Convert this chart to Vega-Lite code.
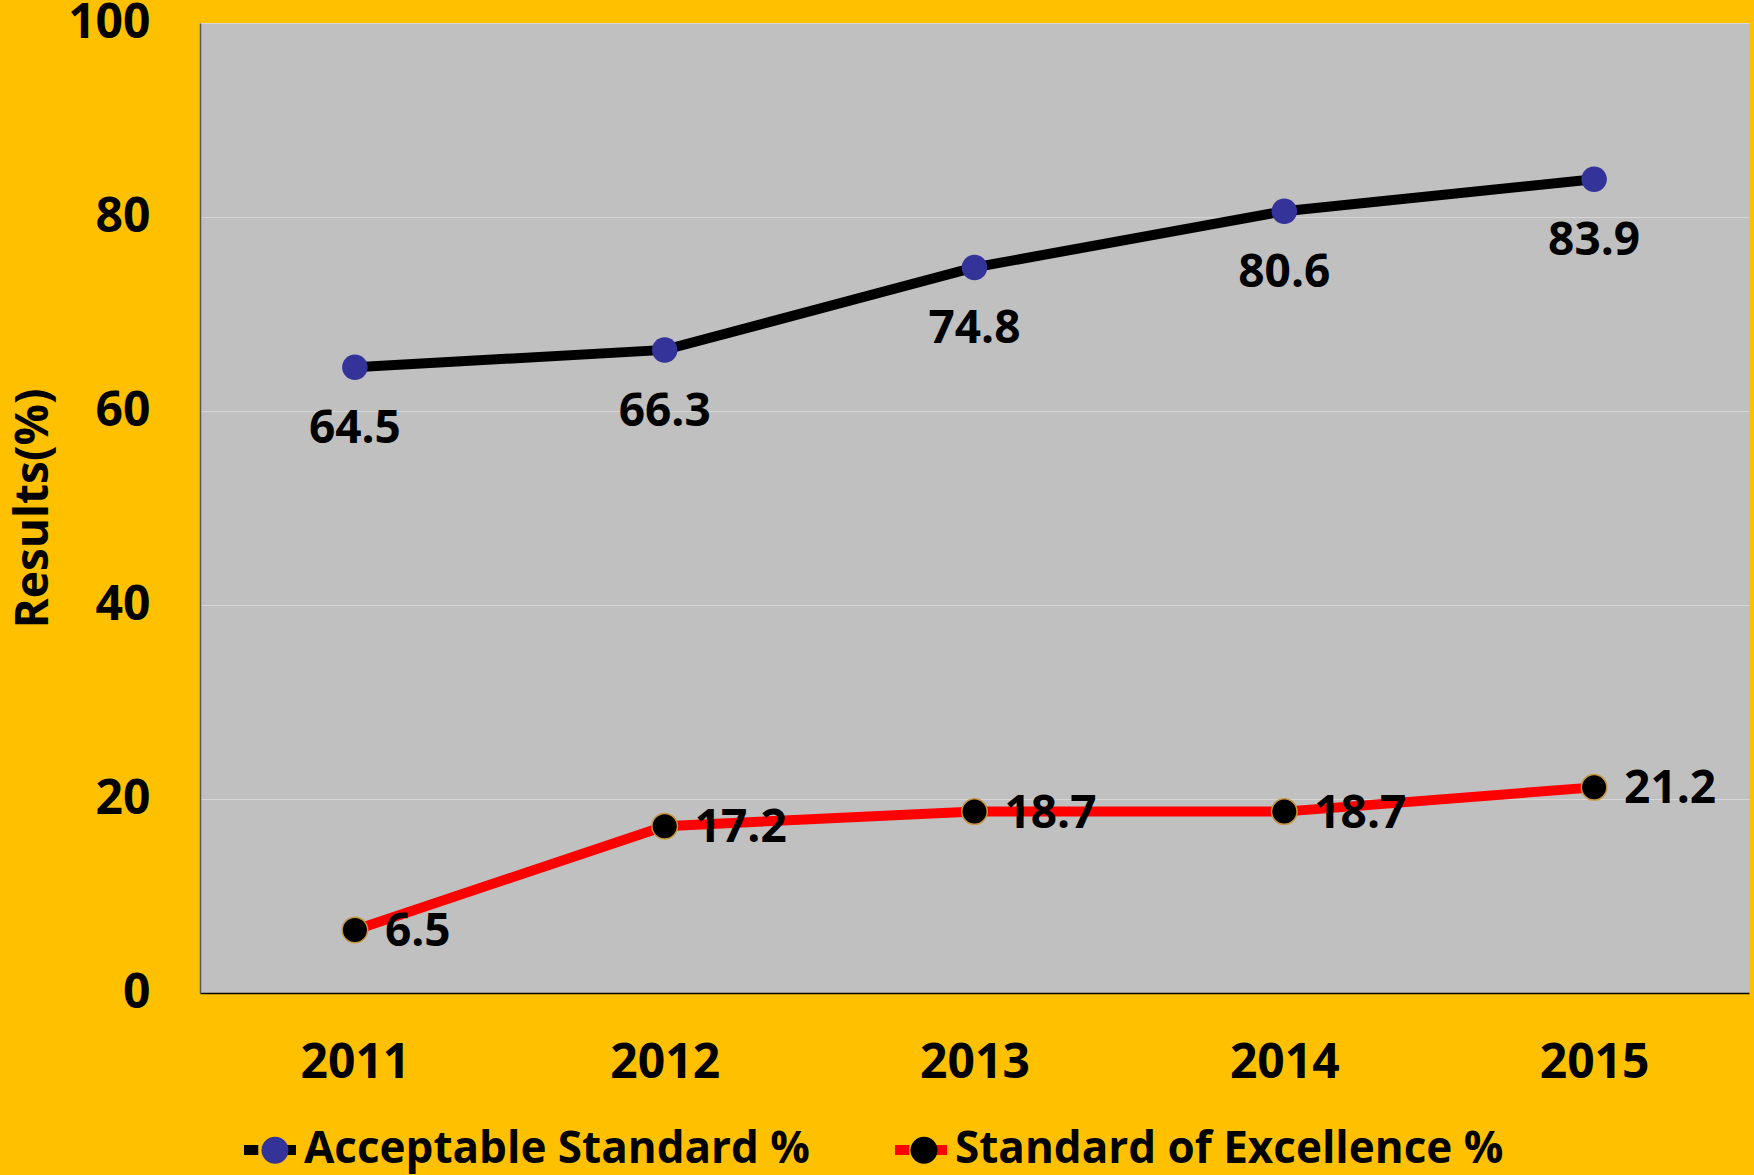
{
  "$schema": "https://vega.github.io/schema/vega-lite/v6.json",
  "autosize": "none",
  "width": 1549,
  "height": 970,
  "padding": {"left": 200, "top": 23, "right": 5, "bottom": 182},
  "background": "#FFC000",
  "config": {
    "font": "Open Sans",
    "view": {"fill": "#C0C0C0", "stroke": null},
    "legend": {"padding": 0}
  },
  "data": {
    "values": [
      {"year": "2011", "series": "Acceptable Standard %", "value": 64.5},
      {"year": "2012", "series": "Acceptable Standard %", "value": 66.3},
      {"year": "2013", "series": "Acceptable Standard %", "value": 74.8},
      {"year": "2014", "series": "Acceptable Standard %", "value": 80.6},
      {"year": "2015", "series": "Acceptable Standard %", "value": 83.9},
      {"year": "2011", "series": "Standard of Excellence %", "value": 6.5},
      {"year": "2012", "series": "Standard of Excellence %", "value": 17.2},
      {"year": "2013", "series": "Standard of Excellence %", "value": 18.7},
      {"year": "2014", "series": "Standard of Excellence %", "value": 18.7},
      {"year": "2015", "series": "Standard of Excellence %", "value": 21.2}
    ]
  },
  "encoding": {
    "x": {
      "field": "year", "type": "ordinal",
      "axis": {
        "title": null, "labelAngle": 0, "labelFontSize": 48, "labelFontWeight": "bold",
        "labelColor": "#000000", "labelPadding": 46, "ticks": false,
        "domainColor": "#000000", "domainWidth": 1.5, "grid": false
      }
    },
    "y": {
      "field": "value", "type": "quantitative",
      "scale": {"domain": [0, 100]},
      "axis": {
        "title": "Results(%)", "values": [0, 20, 40, 60, 80, 100],
        "labelFontSize": 48, "labelFontWeight": "bold", "labelColor": "#000000",
        "labelPadding": 50, "ticks": false, "domainColor": "#595959", "domainWidth": 1.5,
        "gridColor": "#D6D6D6", "gridWidth": 1,
        "titleFontSize": 46, "titleFontWeight": "bold", "titleColor": "#000000",
        "titleAngle": -90, "titleX": -167, "titleY": 485, "titleAlign": "center", "titleBaseline": "middle"
      }
    }
  },
  "layer": [
    {
      "mark": {"type": "line", "strokeWidth": 10},
      "encoding": {
        "stroke": {
          "field": "series", "type": "nominal",
          "scale": {"range": ["#000000", "#FF0000"]},
          "legend": {
            "title": null, "orient": "none", "direction": "horizontal",
            "legendX": 39, "legendY": 1096,
            "symbolType": "M-1,0L-0.45,0M0.45,0L1,0", "symbolSize": 2704, "symbolStrokeWidth": 10,
            "labelFontSize": 44, "labelFontWeight": "bold", "labelColor": "#000000",
            "labelOffset": 3, "columnPadding": 65, "labelLimit": 1000
          }
        }
      }
    },
    {
      "mark": {"type": "point", "filled": true, "size": 650, "opacity": 1},
      "encoding": {
        "fill": {
          "field": "series", "type": "nominal",
          "scale": {"domain": ["Acceptable Standard %", "Standard of Excellence %"], "range": ["#333399", "#000000"]},
          "legend": {
            "title": null, "orient": "none", "direction": "horizontal",
            "legendX": 44, "legendY": 1096,
            "symbolType": "M0.52,0A0.52,0.52,0,1,1,-0.52,0A0.52,0.52,0,1,1,0.52,0Z", "symbolSize": 2704,
            "symbolStrokeWidth": 10, "symbolStrokeColor": "transparent", "symbolOpacity": 1,
            "labelFontSize": 44, "labelFontWeight": "bold", "labelColor": "transparent",
            "labelOffset": 8, "columnPadding": 70, "labelLimit": 1000
          }
        },
        "stroke": {
          "condition": {"test": "datum.series === 'Standard of Excellence %'", "value": "#C8963E"},
          "value": null
        },
        "strokeWidth": {"value": 1.5}
      }
    },
    {
      "transform": [{"filter": "datum.series === 'Acceptable Standard %'"}],
      "mark": {"type": "text", "fontSize": 46, "fontWeight": "bold", "color": "#000000", "align": "center", "baseline": "middle", "dy": 62},
      "encoding": {"text": {"field": "value", "type": "quantitative", "format": ".1f"}}
    },
    {
      "transform": [{"filter": "datum.series === 'Standard of Excellence %'"}],
      "mark": {"type": "text", "fontSize": 46, "fontWeight": "bold", "color": "#000000", "align": "left", "baseline": "middle", "dx": 30, "dy": 2},
      "encoding": {"text": {"field": "value", "type": "quantitative", "format": ".1f"}}
    }
  ]
}
